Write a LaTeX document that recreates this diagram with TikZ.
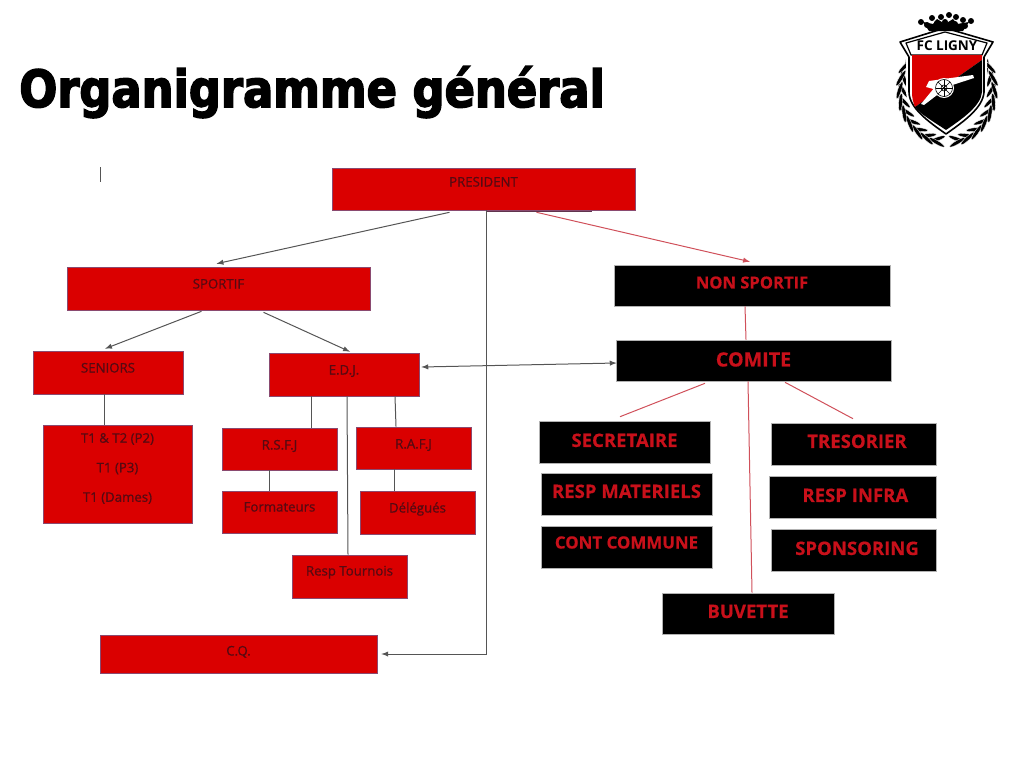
\documentclass[tikz,border=0pt]{standalone}
\usepackage{fontspec}
\setmainfont{Open Sans}
\newfontfamily\titlefont[FakeBold=3,FakeStretch=0.875]{DejaVu Sans Bold}
\newfontfamily\redfont[FakeBold=0.8]{Open Sans}
\newfontfamily\signfont[FakeBold=0.5]{Open Sans Bold}
\usetikzlibrary{calc}
\definecolor{boxred}{HTML}{DA0000}
\definecolor{boxedge}{HTML}{8A4A70}
\definecolor{inkred}{HTML}{560A12}
\definecolor{signred}{HTML}{C8101A}
\definecolor{linkgray}{HTML}{555555}
\definecolor{linkred}{HTML}{D0505A}
\tikzset{
    base/.style={text height=10pt, text depth={10pt+1.418*(#1)*1pt}},
    redbox/.style={draw=boxedge, line width=.15mm, fill=boxred, text=inkred, inner sep=0pt, font=\redfont\fontsize{9.4}{11}\selectfont},
    blackbox/.style={draw=black!30, line width=.15mm, fill=black, text=signred, inner sep=0pt, font=\signfont\fontsize{13.2}{15}\selectfont},
    link/.style={draw=linkgray, line width=.25mm},
    redlink/.style={draw=linkred, line width=.25mm},
    tip/.style={-latex},
    leaf/.style={fill=black, draw=white, line width=.08mm},
}
\begin{document}
\begin{tikzpicture}[x=.25mm, y=-.25mm]
    \useasboundingbox (0,0) rectangle (1024,768);
    \node[anchor=base west, inner sep=0pt, font=\titlefont\fontsize{36.4}{40}\selectfont] (title) at (19,107) {Organigramme général};

    % sport side
    \node[redbox, base=2.5, minimum width=75.75mm, minimum height=10.5mm] (president) at (483.5,189) {PRESIDENT};
    \node[redbox, base=0, minimum width=75.75mm, minimum height=10.75mm] (sportif) at (218.5,288.5) {SPORTIF};
    \node[redbox, base=0, minimum width=37.5mm, minimum height=10.75mm] (seniors) at (108,372.5) {SENIORS};
    \node[redbox, base=0, minimum width=37.5mm, minimum height=10.75mm] (edj) at (344,374.5) {E.D.J.};
    \node[redbox, align=center, minimum width=37.25mm, minimum height=24.5mm] (equipes) at (117.5,474) {T1 \& T2 (P2)\\[10pt]T1 (P3)\\[10pt]T1 (Dames)\\[-5pt]\strut};
    \node[redbox, base=-.5, minimum width=28.75mm, minimum height=10.5mm] (rsfj) at (279.5,449) {R.S.F.J};
    \node[redbox, base=-.5, minimum width=28.75mm, minimum height=10.5mm] (rafj) at (413.5,448) {R.A.F.J};
    \node[redbox, base=.5, minimum width=28.75mm, minimum height=10.5mm] (formateurs) at (279.5,512) {Formateurs};
    \node[redbox, base=0, minimum width=28.75mm, minimum height=10.75mm] (delegues) at (417.5,512.5) {Délégués};
    \node[redbox, base=1, minimum width=28.75mm, minimum height=10.75mm] (tournois) at (349.5,576.5) {Resp Tournois};
    \node[redbox, base=-1.5, minimum width=69.25mm, minimum height=9.5mm] (cq) at (238.5,654) {C.Q.};

    % non sport side
    \node[blackbox, base=-3, font=\signfont\fontsize{11.8}{13}\selectfont, minimum width=69mm, minimum height=10.25mm] (nonsportif) at (752,285.5) {NON SPORTIF};
    \node[blackbox, base=-6, font=\signfont\fontsize{14}{16}\selectfont, minimum width=68.75mm, minimum height=10.25mm] (comite) at (753.5,360.5) {COMITE};
    \node[blackbox, base=-5, minimum width=42.75mm, minimum height=10.5mm] (secretaire) at (624.5,442) {SECRETAIRE};
    \node[blackbox, base=-4, minimum width=42.75mm, minimum height=10.5mm] (materiels) at (626.5,494) {RESP MATERIELS};
    \node[blackbox, base=-1.5, font=\signfont\fontsize{12}{14}\selectfont, minimum width=42.75mm, minimum height=10.5mm] (commune) at (626.5,547) {CONT COMMUNE};
    \node[blackbox, base=-4, minimum width=41.25mm, minimum height=10.5mm] (tresorier) at (853.5,444) {\hspace*{5pt}TRESORIER};
    \node[blackbox, base=-5, minimum width=41.75mm, minimum height=10.5mm] (infra) at (852.5,497) {\hspace*{4pt}RESP INFRA};
    \node[blackbox, base=-5, minimum width=41.25mm, minimum height=10.5mm] (sponsoring) at (853.5,550) {\hspace*{5pt}SPONSORING};
    \node[blackbox, base=-4.5, minimum width=43mm, minimum height=10.25mm] (buvette) at (748,613.5) {BUVETTE};

    % connectors
    \draw[link, tip] ($(president.south)+(-34,2)$) -- ($(sportif.north)+(-2,-3)$);
    \draw[redlink, tip] ($(president.south)+(53,2)$) -- ($(nonsportif.north)+(-2,-3)$);
    \draw[draw=boxedge!70!black, line width=.25mm] ($(president.south)+(2,1)$) -- ($(president.south)+(108,1)$);
    \draw[link, tip] ($(president.south)+(2.5,0)$) |- ($(cq.east)+(4,0)$);
    \draw[link, tip] ($(sportif.south)+(-17,1)$) -- ($(seniors.north)+(-3,-2)$);
    \draw[link, tip] ($(sportif.south)+(45,2)$) -- ($(edj.north)+(6,-1)$);
    \draw[link, latex-latex] ($(edj.east)+(2,-7.5)$) -- ($(comite.west)+(1,2.5)$);
    \draw[link] ($(seniors.south)+(-4,0)$) -- ($(equipes.north)+(-13.5,0)$);
    \draw[link] ($(edj.south)+(-33,0)$) -- ($(rsfj.north)+(31.5,0)$);
    \draw[link] ($(edj.south)+(51,0)$) -- ($(rafj.north)+(-17.5,0)$);
    \draw[link] ($(edj.south)+(3,0)$) -- ($(tournois.north)+(-1.5,0)$);
    \draw[link] ($(rsfj.south)+(-10.5,0)$) -- ($(formateurs.north)+(-10.5,0)$);
    \draw[link] ($(rafj.south)+(-19.5,0)$) -- ($(delegues.north)+(-23.5,0)$);
    \draw[redlink] ($(nonsportif.south)+(-7,0)$) -- ($(comite.north)+(-7.5,0)$);
    \draw[redlink] ($(comite.south)+(-48.5,2)$) -- ($(secretaire.north)+(-4.5,-4)$);
    \draw[redlink] ($(comite.south)+(31.5,1)$) -- ($(tresorier.north)+(-.5,-4)$);
    \draw[redlink] ($(comite.south)+(-5.5,0)$) -- ($(buvette.north)+(4,0)$);

    % stray mark
    \coordinate (marktop) at (100,167);
    \coordinate (markend) at (100,182);
    \draw[draw=linkgray, line width=.25mm] (marktop) -- (markend);

    % crest
    \begin{scope}[shift={(947,90)}]
        % wreath, y grows downward so 90 is the bottom
        \foreach \s in {1,-1} {
            \begin{scope}[xscale=\s]
                \foreach \a in {95,108,...,210} {
                    \begin{scope}[shift={(\a:41 and 47)}, rotate=-\a-90+25]
                        \draw[leaf] (7,0) ellipse [x radius=9, y radius=1.9];
                    \end{scope}
                    \begin{scope}[shift={(\a:50 and 56)}, rotate=-\a-90-25]
                        \draw[leaf] (7,0) ellipse [x radius=9, y radius=1.9];
                    \end{scope}
                }
            \end{scope}
        }
        % outer shield
        \fill[white] (-50,-47) -- (-2,-64) -- (49,-47) -- (40,-33) -- (40,2) .. controls (39,20) and (18,34) .. (-1,47) .. controls (-20,34) and (-40,20) .. (-41,2) -- (-41,-33) -- cycle;
        \draw[black, line width=.4mm, line join=round] (-47,-48) -- (-2,-62) -- (46,-48) -- (37,-33) -- (37,2) .. controls (36,18) and (16,32) .. (-1,44) .. controls (-18,32) and (-38,18) .. (-38,2) -- (-38,-33) -- cycle;
        \draw[black, line width=.3mm, line join=round] (-41,-47) -- (-2,-58) -- (40,-47) -- (35,-35) -- (-36,-35) -- cycle;
        \fill[boxred] (-35,-35) -- (35,-35) -- (35,-30) -- (-32,17) .. controls (-34,12) and (-35,8) .. (-35,2) -- cycle;
        \fill[black] (35,-30) -- (35,2) .. controls (34,16) and (15,29) .. (-1,40) .. controls (-13,32) and (-27,24) .. (-32,17) -- cycle;
        % cannon
        \fill[white] (26,-15) -- (-18,-9) -- (-21,-3) -- (-10,0) -- (27,-12) -- cycle;
        \fill[white] (-12,-3) -- (-26,14) -- (-23,15) -- (-6,2) -- cycle;
        \fill[white] (-3,-2) circle (10);
        \draw[black, line width=.15mm] (-3,-2) circle (8.5) (-3,-2) circle (3);
        \foreach \a in {0,45,...,315} { \draw[black, line width=.12mm] (-3,-2) -- ++(\a:8.5); }
        \node[font=\bfseries\fontsize{9.6}{11}\selectfont, inner sep=0pt] (club) at (0,-44) {FC LIGNY};
        % crown
        \fill[black] (-18,-59) -- (16,-59) -- (22,-68) -- (10,-66) -- (6,-71) -- (-2,-66) -- (-10,-71) -- (-14,-66) -- (-24,-68) -- cycle;
        \foreach \cx/\cy in {-26/-68,-20/-65,-15/-72,-6/-73,2/-75,9/-73,16/-70,24/-69,-2/-68,-10/-67,8/-66,18/-64} {
            \fill[black] (\cx,\cy) circle (3);
        }
    \end{scope}
\end{tikzpicture}
\end{document}
